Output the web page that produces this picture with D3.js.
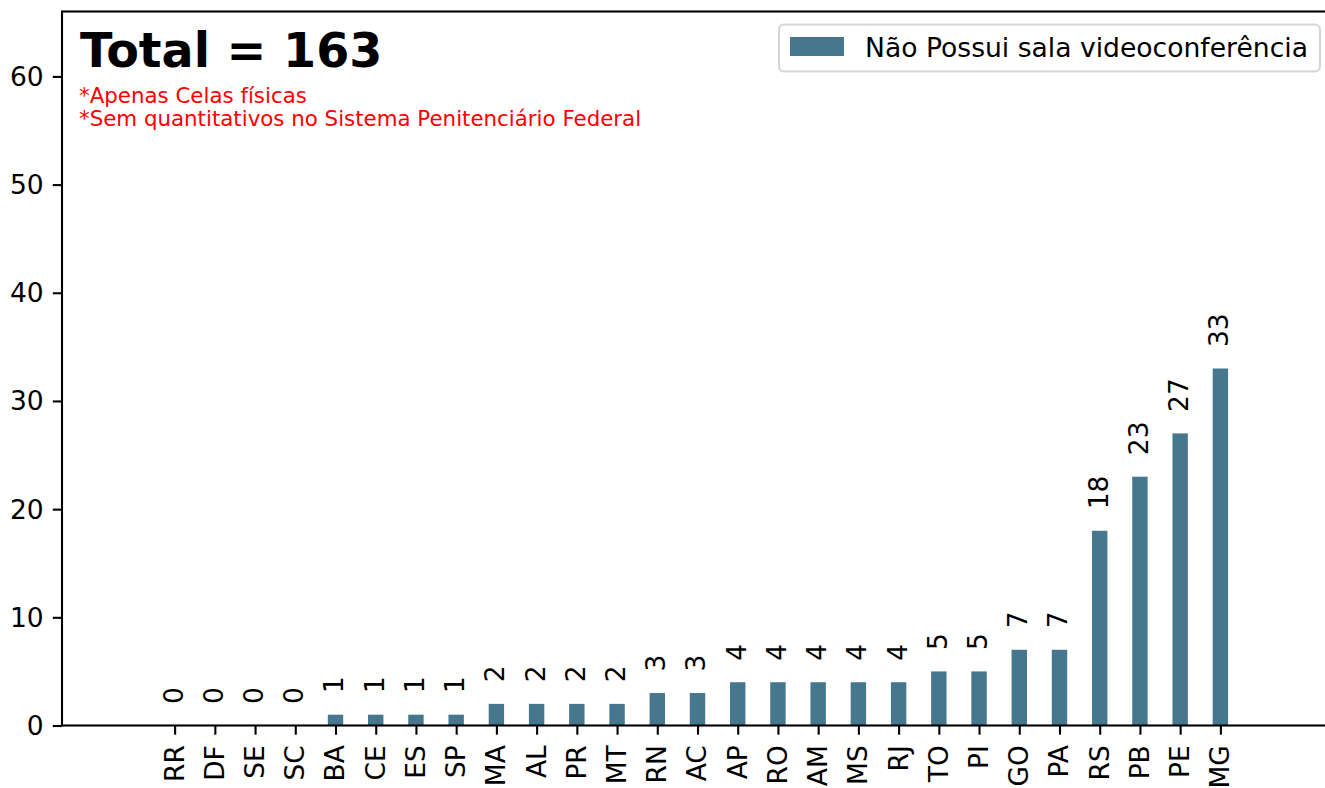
<!DOCTYPE html>
<html>
<head>
<meta charset="utf-8">
<script src="https://cdn.jsdelivr.net/npm/d3@7"></script>
<style>
  html, body { margin: 0; padding: 0; background: #fff; }
  svg { display: block; font-family: "DejaVu Sans", sans-serif; }
</style>
</head>
<body>
<svg id="chart" width="1325" height="788"></svg>
<script>
// Unidades da federação, em ordem crescente
const categories = ["RR","DF","SE","SC","BA","CE","ES","SP","MA","AL","PR","MT","RN","AC",
                    "AP","RO","AM","MS","RJ","TO","PI","GO","PA","RS","PB","PE","MG"];
// Quantidade que não possui sala de videoconferência
const values = [0,0,0,0,1,1,1,1,2,2,2,2,3,3,4,4,4,4,4,5,5,7,7,18,23,27,33];
const yTicks = [0,10,20,30,40,50,60];
const seriesName = "Não Possui sala videoconferência";
const notes = ["*Apenas Celas físicas", "*Sem quantitativos no Sistema Penitenciário Federal"];

const barColor = "#45778f";
const fs = 26.5;          // 10pt
const tickLen = 9.2;
const lw = 2.1;

const svg = d3.select("#chart");
const plot = { left: 62, right: 1333, top: 11.5, bottom: 725.5 };

const idx = categories.map((_, i) => i);
const x = d3.scaleLinear().domain([-2.8, categories.length - 1 + 2.8]).range([plot.left, plot.right]);
const y = d3.scaleLinear().domain([0, 2 * d3.max(values)]).range([plot.bottom, plot.top]);
const barW = 0.383 * (x(1) - x(0));

// barras
svg.append("g").selectAll("rect").data(values).join("rect")
  .attr("x", (d, i) => x(i) - barW / 2)
  .attr("y", d => y(d))
  .attr("width", barW)
  .attr("height", d => y(0) - y(d))
  .attr("fill", barColor);

// rótulos de valor (verticais)
svg.append("g").selectAll("text").data(values).join("text")
  .attr("transform", (d, i) => `translate(${x(i)},${y(d) - 21.5}) rotate(-90)`)
  .attr("dy", "0.3em")
  .attr("text-anchor", "start")
  .attr("font-size", fs)
  .attr("fill", "#000")
  .text(d => d);

// eixo y
const yAxis = d3.axisLeft(y).tickValues(yTicks).tickSize(tickLen).tickPadding(9.2).tickFormat(d3.format("d"));
const gy = svg.append("g").attr("transform", `translate(${plot.left},0)`).call(yAxis);
gy.select(".domain").remove();
gy.selectAll(".tick line").attr("stroke", "#000").attr("stroke-width", lw);
gy.selectAll(".tick text").attr("font-size", fs).attr("fill", "#000")
  .attr("font-family", "DejaVu Sans").attr("dy", "0.34em");

// eixo x
const xAxis = d3.axisBottom(x).tickValues(idx).tickSize(tickLen).tickFormat(i => categories[i]);
const gx = svg.append("g").attr("transform", `translate(0,${plot.bottom})`).call(xAxis);
gx.select(".domain").remove();
gx.selectAll(".tick line").attr("stroke", "#000").attr("stroke-width", lw);
gx.selectAll(".tick text")
  .attr("font-size", fs).attr("fill", "#000").attr("font-family", "DejaVu Sans")
  .attr("text-anchor", "end")
  .attr("y", 0).attr("dy", "0.32em")
  .attr("transform", `translate(0,${tickLen + 10.5}) rotate(-90)`);

// moldura
svg.append("rect")
  .attr("x", plot.left).attr("y", plot.top)
  .attr("width", plot.right - plot.left).attr("height", plot.bottom - plot.top)
  .attr("fill", "none").attr("stroke", "#000").attr("stroke-width", lw);

// título e notas
svg.append("text").attr("x", 80).attr("y", 66.5)
  .attr("font-size", 47.6).attr("font-weight", "bold").attr("fill", "#000")
  .text("Total = " + d3.sum(values));
svg.append("g").selectAll("text").data(notes).join("text")
  .attr("x", 79).attr("y", (d, i) => 103 + i * 22.5)
  .attr("font-size", 21.35).attr("fill", "red")
  .text(d => d);

// legenda
const lg = svg.append("g");
lg.append("rect").attr("x", 779).attr("y", 24.5).attr("width", 541).attr("height", 47)
  .attr("rx", 5).attr("fill", "#fff").attr("fill-opacity", 0.8)
  .attr("stroke", "#d6d6d6").attr("stroke-width", 2.1);
lg.append("rect").attr("x", 790).attr("y", 37).attr("width", 54).attr("height", 19)
  .attr("fill", barColor);
lg.append("text").attr("x", 865).attr("y", 56.5)
  .attr("font-size", 26.6).attr("fill", "#000").text(seriesName);
</script>
</body>
</html>
